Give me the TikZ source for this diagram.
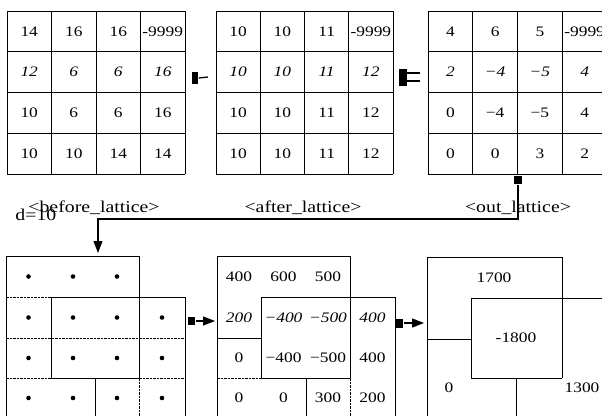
\documentclass[tikz,border=0pt]{standalone}
\usepackage{fontspec}
\setmainfont{Liberation Serif}
\newfontfamily\numfont[FakeStretch=1.2]{Liberation Serif}
\newfontfamily\labfont[FakeStretch=1.2]{Liberation Serif}
\usetikzlibrary{arrows.meta}

% 4x4 lattice of numbers: #1 name, #2 left edge, #3 cell width, #4 rows
\newcommand\numlattice[4]{%
  \foreach \yy in {11,51.75,92.5,133.25,174} \draw[grid] (#2,\yy) -- ({#2+4*#3},\yy);
  \foreach \k in {0,...,4} \draw[grid] ({#2+\k*#3},11) -- ({#2+\k*#3},174);
  \foreach \rv [count=\r] in {#4} {
    \ifnum\r=2 \tikzset{cur/.style={ital}}\else\tikzset{cur/.style={}}\fi
    \foreach \v [count=\c] in \rv {
      \node[cell,cur] (#1-\r-\c) at ({#2+(\c-0.5)*#3},{11+(\r-0.5)*40.75}) {\v};
    }
  }
}

\begin{document}
\begin{tikzpicture}[x=1pt,y=-1pt,line width=1pt,
  cell/.style={font=\numfont\fontsize{14.5}{15}\selectfont,inner sep=0pt},
  ital/.style={font=\numfont\itshape\fontsize{14.5}{15}\selectfont},
  tag/.style={font=\labfont\fontsize{16.5}{17}\selectfont,inner sep=0pt},
  dot/.style={circle,fill,inner sep=0pt,minimum size=4.6pt},
  grid/.style={line width=1pt},
  seam/.style={line width=0.9pt,dash pattern=on 2.5pt off 1pt},
  blk/.style={fill,draw=none,inner sep=0pt},
  tip/.style={-{Triangle[length=12pt,width=9pt]}},
  link/.style={line width=1.3pt}
]
\clip (0,0) rectangle (602,415);

% ---- upper row: before, after and out lattices ----
\numlattice{tl}{7}{44.5}{{14,16,16,-9999},{12,6,6,16},{10,6,6,16},{10,10,14,14}}
\numlattice{tm}{216}{44.25}{{10,10,11,-9999},{10,10,11,12},{10,10,11,12},{10,10,11,12}}
\numlattice{tr}{428}{44.75}{{4,6,5,-9999},{2,−4,−5,4},{0,−4,−5,4},{0,0,3,2}}

% small connectors between the upper lattices
\node[blk,minimum width=6.5pt,minimum height=12pt] (k1) at (195,78) {};
\coordinate (k1e) at (208,77);
\draw[link] (k1.east) -- (k1e);

\node[blk,minimum width=8pt,minimum height=17pt] (k2) at (402.5,77) {};
\draw[link] (k2.east) ++(0,-4) -- ++(13,0);
\draw[link] (k2.east) ++(0,4) -- ++(13,0);

% ---- captions ----
\node[tag] (lb) at (94,208) {<before\_lattice>};
\node[tag] (la) at (303,208) {<after\_lattice>};
\node[tag] (lo) at (518,208) {<out\_lattice>};
\node[tag,anchor=west] (dd) at (15,215) {d=10};

% drop from the out lattice to the lower row
\node[blk,minimum size=8pt] (k5) at (518,180) {};
\coordinate (bend) at (98,219);
\coordinate (land) at (98,253);
\draw[link,tip] (k5.south) |- (bend) -- (land);

% ---- lower left: lattice points grouped into regions ----
\draw[grid] (6,256) -- (139,256);
\draw[grid] (6,256) -- (6,420);
\draw[grid] (139,256) -- (139,378);
\draw[seam] (139,378) -- (139,420);
\draw[seam] (6,297) -- (51,297);
\draw[grid] (51,297) -- (185,297);
\draw[grid] (185,297) -- (185,420);
\draw[grid] (51,297) -- (51,378);
\draw[seam] (6,338) -- (185,338);
\draw[seam] (6,378) -- (51,378);
\draw[grid] (51,378) -- (139,378);
\draw[seam] (139,378) -- (185,378);
\draw[grid] (95,378) -- (95,420);
\foreach \xx [count=\c] in {28.5,73,117,162}
  \foreach \yy [count=\r] in {276.5,317.5,358,398} {
    \ifnum\r=1 \ifnum\c=4 \else \node[dot] (p-\r-\c) at (\xx,\yy) {}; \fi
    \else \node[dot] (p-\r-\c) at (\xx,\yy) {}; \fi
  }

\node[blk,minimum width=7pt,minimum height=8pt] (k3) at (191.5,321) {};
\coordinate (k3t) at (215,321);
\draw[link,tip] (k3.east) -- (k3t);

% ---- lower middle: values in the regions ----
\draw[grid] (217,256) -- (350,256);
\draw[grid] (217,256) -- (217,420);
\draw[grid] (350,256) -- (350,378);
\draw[seam] (350,378) -- (350,420);
\draw[grid] (261,297) -- (395,297);
\draw[grid] (395,297) -- (395,420);
\draw[grid] (261,297) -- (261,378);
\draw[grid] (217,338) -- (261,338);
\draw[seam] (217,378) -- (261,378);
\draw[grid] (261,378) -- (350,378);
\draw[grid] (306,378) -- (306,420);

\node[cell] (m-1-1) at (239,276.5) {400};
\node[cell] (m-1-2) at (283.5,276.5) {600};
\node[cell] (m-1-3) at (328,276.5) {500};
\node[ital] (m-2-1) at (239,317.5) {200};
\node[ital] (m-2-2) at (283.5,317.5) {−400};
\node[ital] (m-2-3) at (328,317.5) {−500};
\node[ital] (m-2-4) at (372.5,317.5) {400};
\node[cell] (m-3-1) at (239,358) {0};
\node[cell] (m-3-2) at (283.5,358) {−400};
\node[cell] (m-3-3) at (328,358) {−500};
\node[cell] (m-3-4) at (372.5,358) {400};
\node[cell] (m-4-1) at (239,398) {0};
\node[cell] (m-4-2) at (283.5,398) {0};
\node[cell] (m-4-3) at (328,398) {300};
\node[cell] (m-4-4) at (372.5,398) {200};

\node[blk,minimum width=7pt,minimum height=9pt] (k4) at (399.5,323) {};
\coordinate (k4t) at (424,323);
\draw[link,tip] (k4.east) -- (k4t);

% ---- lower right: region sums ----
\draw[grid] (427,257) -- (562,257);
\draw[grid] (427,257) -- (427,420);
\draw[grid] (562,257) -- (562,378);
\draw[grid] (471,298) -- (610,298);
\draw[grid] (471,298) -- (471,378);
\draw[grid] (427,339) -- (471,339);
\draw[grid] (471,378) -- (562,378);
\draw[grid] (516,378) -- (516,420);

\node[cell] (s1) at (494,278) {1700};
\node[cell] (s2) at (516,338) {-1800};
\node[cell] (s3) at (449,388) {0};
\node[cell] (s4) at (582,388) {1300};
\end{tikzpicture}
\end{document}
